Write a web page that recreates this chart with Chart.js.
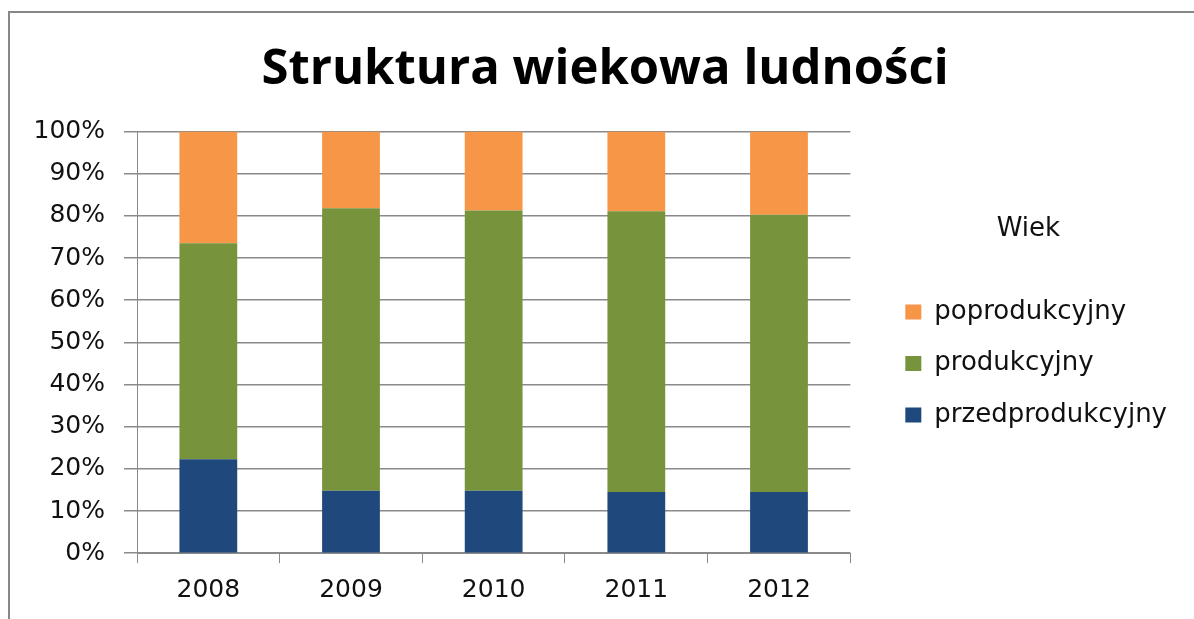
<!DOCTYPE html>
<html>
<head>
<meta charset="utf-8">
<title>Struktura wiekowa ludności</title>
<script src="https://cdn.jsdelivr.net/npm/chart.js@4/dist/chart.umd.min.js"></script>
<style>
    html, body { margin: 0; padding: 0; background: #fff; }
    #frame {
        position: absolute; left: 8px; top: 11px; width: 1186px; height: 608px;
        border-top: 2px solid #878787; border-left: 2px solid #878787;
    }
    #wrap { position: absolute; left: 0; top: 0; width: 1194px; height: 619px; }
</style>
</head>
<body>
<div id="frame"></div>
<div id="wrap"><canvas id="chartWiek" width="1194" height="619"></canvas></div>
<script>
const years = ['2008', '2009', '2010', '2011', '2012'];
const przedprodukcyjny = [22.3, 14.8, 14.8, 14.5, 14.5];
const produkcyjny = [51.2, 67.0, 66.5, 66.6, 65.8];
const poprodukcyjny = [26.5, 18.2, 18.7, 18.9, 19.7];
const yTicks = [0, 10, 20, 30, 40, 50, 60, 70, 80, 90, 100];

const gridColor = '#8a8a8a';

function makeDataset(label, data, color) {
    return {
        label: label,
        data: data,
        backgroundColor: color,
        borderWidth: 0,
        categoryPercentage: 1,
        barPercentage: 0.405
    };
}

function initChartWiek() {
    const ctx = document.getElementById('chartWiek').getContext('2d');
    new Chart(ctx, {
        type: 'bar',
        data: {
            labels: years,
            datasets: [
                makeDataset('przedprodukcyjny', przedprodukcyjny, '#1F497D'),
                makeDataset('produkcyjny', produkcyjny, '#77933C'),
                makeDataset('poprodukcyjny', poprodukcyjny, '#F79646')
            ]
        },
        options: {
            responsive: false,
            animation: false,
            layout: { padding: { left: 33, right: 17, top: 0, bottom: 0.6 } },
            scales: {
                x: {
                    stacked: true,
                    grid: { drawOnChartArea: false, drawTicks: true, tickLength: 10, color: gridColor, lineWidth: 1 },
                    border: { display: true, color: gridColor, width: 1 },
                    ticks: { color: '#111', padding: 12.6, font: { family: 'DejaVu Sans', size: 25 } }
                },
                y: {
                    stacked: true,
                    min: 0,
                    max: 100,
                    afterFit: scale => { scale.width = 104; },
                    afterBuildTicks: scale => { scale.ticks = yTicks.map(v => ({ value: v })); },
                    grid: { color: gridColor, lineWidth: 1.5, tickLength: 13 },
                    border: { display: true, color: gridColor, width: 1 },
                    ticks: {
                        color: '#111',
                        padding: 19,
                        font: { family: 'DejaVu Sans', size: 25 },
                        callback: v => v + '%'
                    }
                },
                // empty axis, only keeps a gap between the plot and the legend
                gap: {
                    type: 'linear',
                    position: 'right',
                    afterFit: scale => { scale.width = 29.5; },
                    grid: { display: false },
                    border: { display: false },
                    ticks: { display: false }
                }
            },
            plugins: {
                title: {
                    display: true,
                    text: 'Struktura wiekowa ludności',
                    color: '#000',
                    font: { family: 'Open Sans', size: 49, weight: 'bold' },
                    padding: { top: 41, bottom: 31.8 }
                },
                legend: {
                    display: true,
                    position: 'right',
                    reverse: true,
                    maxWidth: 330,
                    title: {
                        display: true,
                        text: 'Wiek',
                        color: '#111',
                        font: { family: 'DejaVu Sans', size: 26 },
                        padding: { top: 51.1, bottom: 26.3 }
                    },
                    labels: {
                        color: '#111',
                        boxWidth: 16,
                        boxHeight: 15,
                        padding: 25.5,
                        font: { family: 'DejaVu Sans', size: 26 }
                    }
                },
                tooltip: { enabled: false }
            }
        }
    });
}

initChartWiek();
</script>
</body>
</html>
